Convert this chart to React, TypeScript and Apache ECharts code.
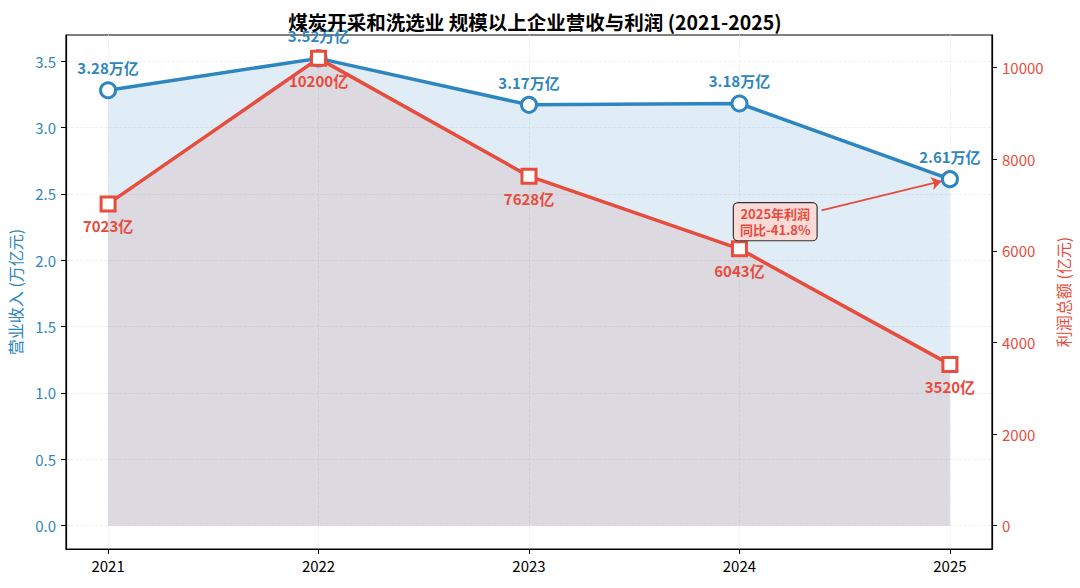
import React, { useEffect, useRef } from "react";
import * as echarts from "echarts";

const years = [2021, 2022, 2023, 2024, 2025];
const revenue = [3.28, 3.52, 3.17, 3.18, 2.61]; // 万亿元
const profit = [7023, 10200, 7628, 6043, 3520]; // 亿元
const leftTicks = [0, 0.5, 1.0, 1.5, 2.0, 2.5, 3.0, 3.5];
const rightTicks = [0, 2000, 4000, 6000, 8000, 10000];
const annotationText = "2025年利润\n同比-41.8%";
const annotationBox = [2024.17, 2.29];
const arrowStart = [2024.39, 2.375];
const arrowEnd = [2024.96, 2.595];

const BLUE = "#2E86C1";
const RED = "#E74C3C";
const FONT = "'Noto Sans CJK SC', 'Noto Sans', sans-serif";
const GRID = "#ececec";

export default function App() {
  const ref = useRef<HTMLDivElement>(null);
  useEffect(() => {
    if (!ref.current) return;
    const chart = echarts.init(ref.current, null, { renderer: "svg" });
    const option: any = {
      animation: false,
      backgroundColor: "#fff",
      textStyle: { fontFamily: FONT },
      title: {
        text: "煤炭开采和洗选业 规模以上企业营收与利润 (2021-2025)",
        left: 530,
        textAlign: "center",
        top: 7,
        textStyle: { fontFamily: FONT, fontSize: 19.5, fontWeight: "bold", color: "#000" },
      },
      grid: {
        left: 66,
        right: 88,
        top: 35,
        bottom: 39,
        containLabel: false,
        outerBoundsMode: "none",
        show: true,
        borderColor: "#000",
        borderWidth: 1.2,
        backgroundColor: "transparent",
      },
      xAxis: {
        type: "value",
        min: 2020.8,
        max: 2025.2,
        axisLine: { show: true, onZero: false, lineStyle: { color: "#000", width: 1.2 } },
        axisTick: { show: true, inside: false, length: 5, customValues: years, lineStyle: { color: "#000" } },
        axisLabel: {
          customValues: years,
          margin: 9,
          color: "#000",
          fontSize: 15,
          fontFamily: FONT,
          formatter: (v: number) => String(v),
        },
        splitLine: { show: true, lineStyle: { color: GRID, type: "dashed", width: 0.8 } },
      },
      yAxis: [
        {
          type: "value",
          min: -0.176,
          max: 3.696,
          position: "left",
          name: "营业收入 (万亿元)",
          nameLocation: "middle",
          nameGap: 43,
          nameTextStyle: { color: BLUE, fontSize: 16, fontFamily: FONT },
          axisLine: { show: true, onZero: false, lineStyle: { color: "#000", width: 1.2 } },
          axisTick: { show: true, length: 5, customValues: leftTicks, lineStyle: { color: "#000" } },
          axisLabel: {
            customValues: leftTicks,
            margin: 10,
            color: BLUE,
            fontSize: 15,
            fontFamily: FONT,
            formatter: (v: number) => v.toFixed(1),
          },
          splitLine: { show: true, lineStyle: { color: GRID, type: "dashed", width: 0.8 } },
        },
        {
          type: "value",
          min: -510,
          max: 10710,
          position: "right",
          name: "利润总额 (亿元)",
          nameLocation: "middle",
          nameGap: 60,
          nameTextStyle: { color: RED, fontSize: 16, fontFamily: FONT },
          axisLine: { show: true, onZero: false, lineStyle: { color: "#000", width: 1.2 } },
          axisTick: { show: true, length: 5, customValues: rightTicks, lineStyle: { color: "#000" } },
          axisLabel: {
            customValues: rightTicks,
            margin: 10,
            color: RED,
            fontSize: 15,
            fontFamily: FONT,
            formatter: (v: number) => String(v),
          },
          splitLine: { show: false },
        },
      ],
      series: [
        {
          name: "营业收入",
          type: "line",
          yAxisIndex: 0,
          data: years.map((y, i) => [y, revenue[i]]),
          symbol: "circle",
          symbolSize: 15,
          lineStyle: { color: BLUE, width: 3.5 },
          itemStyle: { color: "#fff", borderColor: BLUE, borderWidth: 3 },
          areaStyle: { color: BLUE, opacity: 0.15 },
          label: {
            show: true,
            position: "top",
            distance: 6,
            color: BLUE,
            fontWeight: "bold",
            fontSize: 15,
            fontFamily: FONT,
            formatter: (p: any) => p.value[1].toFixed(2) + "万亿",
          },
          markLine: {
            silent: true,
            symbol: ["none", "arrow"],
            symbolSize: 10,
            label: { show: false },
            lineStyle: { color: RED, width: 1.8, type: "solid" },
            data: [[{ coord: arrowStart }, { coord: arrowEnd }]],
          },
          markPoint: {
            silent: true,
            symbol: "rect",
            symbolSize: 1,
            itemStyle: { color: "transparent" },
            label: {
              show: true,
              position: "inside",
              formatter: annotationText,
              color: RED,
              fontWeight: "bold",
              fontSize: 13,
              lineHeight: 16,
              fontFamily: FONT,
              backgroundColor: "#FADBD8",
              borderColor: "#333",
              borderWidth: 1.2,
              borderRadius: 4,
              padding: [3, 6, 2, 6],
            },
            data: [{ coord: annotationBox }],
          },
        },
        {
          name: "利润总额",
          type: "line",
          yAxisIndex: 1,
          data: years.map((y, i) => [y, profit[i]]),
          symbol: "rect",
          symbolSize: 14,
          lineStyle: { color: RED, width: 3.5 },
          itemStyle: { color: "#fff", borderColor: RED, borderWidth: 3 },
          areaStyle: { color: "rgb(204,110,99)", opacity: 0.15 },
          label: {
            show: true,
            position: "bottom",
            distance: 6,
            color: RED,
            fontWeight: "bold",
            fontSize: 15,
            fontFamily: FONT,
            formatter: (p: any) => p.value[1] + "亿",
          },
        },
      ],
    };
    chart.setOption(option);
    return () => chart.dispose();
  }, []);
  return (
    <div
      ref={ref}
      style={{ position: "fixed", left: 0, top: 0, width: 1080, height: 588, background: "#fff" }}
    />
  );
}
